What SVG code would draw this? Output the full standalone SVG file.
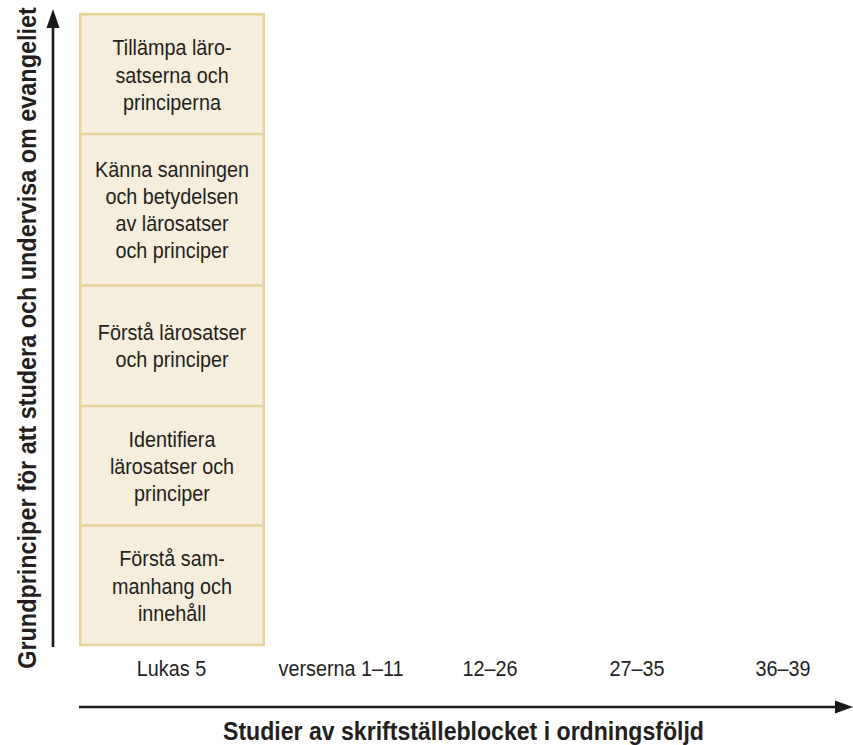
<svg xmlns="http://www.w3.org/2000/svg" width="853" height="745" viewBox="0 0 853 745">
<style>
.box{fill:#f6eedc;stroke:#e8d49b;stroke-width:2.7}
.div{stroke:#e8d49b;stroke-width:2.7}
.t{font-family:"Liberation Sans",Arial,sans-serif;font-size:22px;fill:#231f20;text-anchor:middle}
.b{font-family:"Liberation Sans",Arial,sans-serif;font-size:26px;font-weight:bold;fill:#231f20;text-anchor:middle}
.ax{stroke:#1a1a1a;stroke-width:2.6;fill:none}
.ah{fill:#1a1a1a}
</style>
<rect width="853" height="745" fill="#ffffff"/>
<g id="stack">
<rect class="box" x="80.3" y="14.2" width="183.4" height="630.8"/>
</g>
<g id="dividers">
<line class="div" x1="80.3" y1="134" x2="263.7" y2="134"/>
<line class="div" x1="80.3" y1="285.3" x2="263.7" y2="285.3"/>
<line class="div" x1="80.3" y1="406" x2="263.7" y2="406"/>
<line class="div" x1="80.3" y1="525.3" x2="263.7" y2="525.3"/>
</g>
<g id="n1" transform="translate(172,0) scale(0.9,1)">
<text class="t" x="0" y="55">Tillämpa läro-</text>
<text class="t" x="0" y="83">satserna och</text>
<text class="t" x="0" y="110">principerna</text>
</g>
<g id="n2" transform="translate(172,0) scale(0.9,1)">
<text class="t" x="0" y="177">Känna sanningen</text>
<text class="t" x="0" y="204">och betydelsen</text>
<text class="t" x="0" y="231.5">av lärosatser</text>
<text class="t" x="0" y="258.5">och principer</text>
</g>
<g id="n3" transform="translate(172,0) scale(0.9,1)">
<text class="t" x="0" y="340">Förstå lärosatser</text>
<text class="t" x="0" y="367">och principer</text>
</g>
<g id="n4" transform="translate(172,0) scale(0.9,1)">
<text class="t" x="0" y="447">Identifiera</text>
<text class="t" x="0" y="474">lärosatser och</text>
<text class="t" x="0" y="501">principer</text>
</g>
<g id="n5" transform="translate(172,0) scale(0.9,1)">
<text class="t" x="0" y="566">Förstå sam-</text>
<text class="t" x="0" y="594">manhang och</text>
<text class="t" x="0" y="621.5">innehåll</text>
</g>
<g id="connectors">
<line class="ax" x1="53" y1="647" x2="53" y2="26"/>
<polygon class="ah" points="53,9 46.5,28 59.5,28"/>
<line class="ax" x1="79" y1="707" x2="837" y2="707"/>
<polygon class="ah" points="853,707 835,700.5 835,713.5"/>
</g>
<g id="xlabels">
<text class="t" transform="translate(171.5,676) scale(0.9,1)">Lukas 5</text>
<text class="t" transform="translate(341,676) scale(0.9,1)">verserna 1–11</text>
<text class="t" transform="translate(490,676) scale(0.9,1)">12–26</text>
<text class="t" transform="translate(637,676) scale(0.9,1)">27–35</text>
<text class="t" transform="translate(783,676) scale(0.9,1)">36–39</text>
</g>
<g id="axis-titles">
<text class="b" transform="translate(463.5,740) scale(0.888,1)">Studier av skriftställeblocket i ordningsföljd</text>
<text class="b" transform="translate(36,338) rotate(-90) scale(0.9,1)">Grundprinciper för att studera och undervisa om evangeliet</text>
</g>
</svg>
